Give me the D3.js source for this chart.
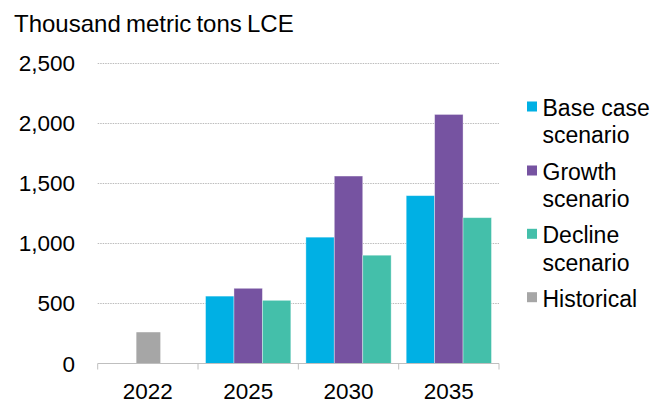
<!DOCTYPE html>
<html><head><meta charset="utf-8">
<script src="https://cdn.jsdelivr.net/npm/d3@7"></script>
<style>
body{margin:0;background:#fff;}
text{font-family:"Liberation Sans",Arial,sans-serif;fill:#000;}
</style></head>
<body>
<svg id="c" width="668" height="403"></svg>
<script>
const years = ["2022","2025","2030","2035"];
const seriesNames = ["Base case scenario","Growth scenario","Decline scenario","Historical"];
const baseCase = [null, 560, 1050, 1395];
const growth = [null, 625, 1558, 2070];
const decline = [null, 525, 900, 1212];
const historical = [260, null, null, null];
const yTicks = [0, 500, 1000, 1500, 2000, 2500];
const colors = ["#00B0E4","#7653A1","#44BFAA","#A6A6A6"];

const FS = "22.5px";
const svg = d3.select("#c");
const x0 = d3.scaleBand().domain(years).range([97.7, 499]).paddingInner(0).paddingOuter(0);
const y = d3.scaleLinear().domain([0, 2500]).range([363.5, 62.7]);
const x1 = d3.scaleBand().domain([0,1,2]).range([0, x0.bandwidth()]).paddingOuter(0.265).paddingInner(0);

// gridlines
svg.append("g").selectAll("line").data(yTicks.slice(1)).join("line")
  .attr("x1", 97.7).attr("x2", 499)
  .attr("y1", d => Math.round(y(d)) + 0.5).attr("y2", d => Math.round(y(d)) + 0.5)
  .attr("stroke", "#BDBDBD").attr("stroke-width", 1).attr("stroke-dasharray", "1.5,1");

// y labels
svg.append("g").selectAll("text").data(yTicks).join("text")
  .attr("x", 75).attr("y", d => y(d) + 8)
  .attr("text-anchor", "end").attr("font-size", FS)
  .text(d => d3.format(",")(d));

// bars
const scen = [baseCase, growth, decline];
const g = svg.append("g");
scen.forEach((arr, si) => {
  g.selectAll(null).data(years.map((yr,i)=>({yr, v:arr[i]})).filter(d=>d.v!=null)).join("rect")
    .attr("x", d => x0(d.yr) + x1(si))
    .attr("width", x1.bandwidth())
    .attr("y", d => y(d.v))
    .attr("height", d => y(0) - y(d.v))
    .attr("fill", colors[si])
    .attr("stroke", "#ffffff").attr("stroke-opacity", 0.45).attr("stroke-width", 0.8);
});
g.selectAll(null).data(years.map((yr,i)=>({yr, v:historical[i]})).filter(d=>d.v!=null)).join("rect")
  .attr("x", d => x0(d.yr) + x0.bandwidth()/2 - 11.5)
  .attr("width", 24)
  .attr("y", d => y(d.v))
  .attr("height", d => y(0) - y(d.v))
  .attr("fill", colors[3]);

// x axis
const xa = svg.append("g").attr("transform", "translate(0,363.5)");
xa.append("line").attr("x1", 97.7).attr("x2", 499).attr("y1",0).attr("y2",0)
  .attr("stroke", "#BFBFBF").attr("stroke-width", 1);
const tickPos = years.map(d => x0(d)).concat([x0(years[years.length-1]) + x0.bandwidth()]);
xa.selectAll("line.t").data(tickPos).join("line").attr("class","t")
  .attr("x1", d => d).attr("x2", d => d).attr("y1", 0).attr("y2", 6)
  .attr("stroke", "#BFBFBF").attr("stroke-width", 1);
xa.selectAll("text").data(years).join("text")
  .attr("x", d => x0(d) + x0.bandwidth()/2).attr("y", 35.5)
  .attr("text-anchor", "middle").attr("font-size", FS)
  .text(d => d);

// title
svg.append("text").attr("x", 14).attr("y", 32).attr("font-size", "24px").attr("word-spacing","-1.5px")
  .text("Thousand metric tons LCE");

// legend
const legendItems = [
  {lines:["Base case","scenario"], c:colors[0], y:116},
  {lines:["Growth","scenario"], c:colors[1], y:180},
  {lines:["Decline","scenario"], c:colors[2], y:243.3},
  {lines:["Historical"], c:colors[3], y:306.7}
];
const lg = svg.append("g");
legendItems.forEach(it => {
  lg.append("rect").attr("x", 527).attr("y", it.y - 14.5).attr("width", 10).attr("height", 10).attr("fill", it.c);
  it.lines.forEach((l, i) => {
    lg.append("text").attr("x", 542.5).attr("y", it.y + i*27.3)
      .attr("font-size", "23px").text(l);
  });
});
</script>
</body></html>
